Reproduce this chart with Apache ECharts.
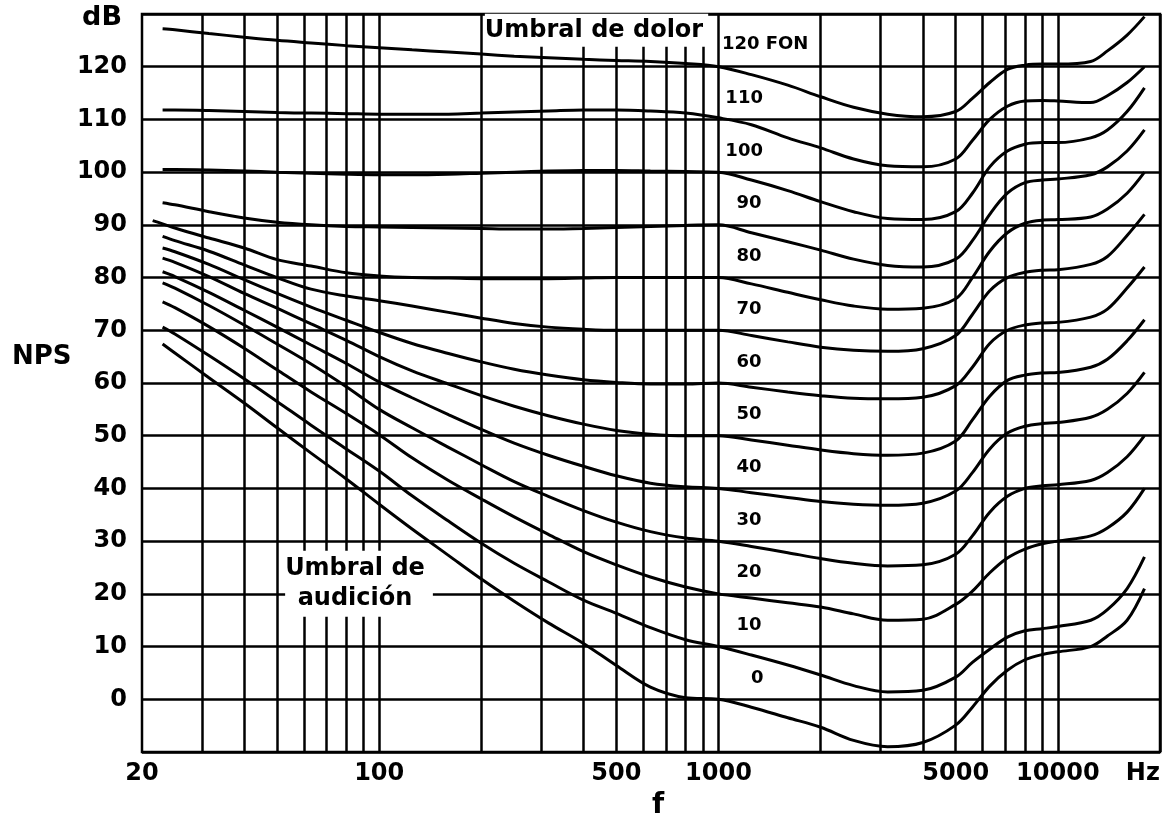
<!DOCTYPE html>
<html><head><meta charset="utf-8">
<script src="https://cdn.jsdelivr.net/npm/echarts@6/dist/echarts.min.js"></script>
<style>html,body{margin:0;padding:0;background:#fff}#c{width:1172px;height:839px}</style>
</head><body><div id="c"></div>
<script>
// Frequencies (Hz) at which the contours are read
const freqs = [21.5,23,25,31.5,40,50,63,80,100,125,160,200,250,315,400,500,630,800,1000,1250,1600,2000,2500,3150,4000,5000,5600,6300,7100,8000,9000,10000,12500,14000,16000,18000];
// Equal-loudness contours (dB SPL), one array per loudness level (phon); null = not drawn
const c120 = [null,127.2,127,126.3,125.6,125,124.5,124,123.6,123.2,122.8,122.4,122,121.7,121.4,121.2,121,120.6,120,118.5,116.5,114.3,112.3,111,110.5,111.5,114,117,119.5,120.3,120.5,120.5,121,123,126,129.5];
const c110 = [null,111.8,111.8,111.7,111.5,111.3,111.2,111.1,111,111,111,111.2,111.4,111.6,111.8,111.8,111.6,111.2,110.3,109,106.5,104.6,102.5,101.2,101,102.5,106,110,112.5,113.5,113.6,113.5,113.2,114.5,117,120];
const c100 = [null,100.5,100.5,100.4,100.2,100,99.8,99.6,99.5,99.5,99.6,99.8,100,100.2,100.3,100.3,100.2,100.1,100,98.5,96.5,94.4,92.5,91.2,91,92.5,96,101,104,105.3,105.6,105.6,106.5,108,111.5,116];
const c90 = [null,94.2,93.8,92.5,91.3,90.5,90,89.7,89.6,89.5,89.4,89.3,89.2,89.2,89.3,89.5,89.7,89.9,90,88.5,86.8,85.2,83.5,82.3,82,83.5,87,92,96,98,98.5,98.7,99.5,101,104,108];
const c80 = [90.8,90.2,89.4,87.5,85.6,83.4,82.2,80.9,80.3,80,79.9,79.8,79.8,79.8,79.9,80,80,80,80,78.8,77.2,75.8,74.6,74,74.2,76,80,85,88.5,90.3,90.9,91,91.5,93,96,100];
const c70 = [null,87.8,87,85,82.4,80,77.8,76.5,75.6,74.6,73.4,72.3,71.3,70.6,70.2,70,70,70,70,69,67.8,66.8,66.2,66,66.5,69,73,77.5,80,81,81.4,81.5,82.5,84,88,92];
const c60 = [null,85.6,84.9,82.5,79.6,77,74.4,71.9,69.6,67.5,65.6,64,62.6,61.5,60.6,60.1,59.8,59.8,60,59.2,58.3,57.6,57.1,57,57.3,59.5,63,67.5,70,71,71.4,71.5,72.5,74,78,82];
const c50 = [null,83.7,82.9,80.2,77,74.2,71.2,68.1,65,62.3,59.8,57.6,55.6,53.8,52.2,51,50.3,50,50,49.2,48.2,47.3,46.6,46.3,46.7,49,53,57.5,60.5,61.5,61.9,62,63,64.5,68,72];
const c40 = [null,81.1,80.2,77.2,73.8,70.6,67.2,63.7,60.2,57.2,54,51.2,48.6,46.3,44.2,42.4,41,40.3,40,39.2,38.3,37.5,37,36.8,37.2,39.5,43,47.5,50.5,51.8,52.3,52.5,53.5,55,58,62];
const c30 = [null,79,78,74.7,71,67.4,63.6,59.3,55,51.5,47.8,44.5,41.3,38.5,35.8,33.6,31.8,30.6,30,29,27.8,26.7,25.8,25.3,25.5,27.5,31,35.5,38.5,40,40.5,40.7,41.5,43,46,50];
const c20 = [null,75.4,74.3,70.7,66.6,62.5,58.3,54.2,50.2,45.8,41.5,38,34.6,31.3,28,25.5,23.2,21.3,20,19.2,18.3,17.5,16.2,15,15.2,18,20.5,24,26.8,28.5,29.5,30,31,32.5,35.5,40];
const c10 = [null,70.6,69.3,65.2,60.8,56.5,52,47.5,43.3,38.6,33.8,29.6,25.8,22.3,18.8,16.3,13.6,11.3,10,8.4,6.5,4.6,2.6,1.4,1.7,4.2,7,9.5,11.8,13,13.4,13.8,15,17,21,27];
const c0 = [null,67.4,65.7,61,56.2,51.5,46.7,41.8,37,32.3,27.3,22.8,18.6,14.5,10.6,6.4,2.3,0.3,0,-1.5,-3.5,-5.3,-7.8,-9,-8.2,-4.9,-1.5,2.5,5.5,7.5,8.5,9,10,12,15,21];
const curves = [c0,c10,c20,c30,c40,c50,c60,c70,c80,c90,c100,c110,c120];
// Curve labels
const curveLabels = ['0','10','20','30','40','50','60','70','80','90','100','110','120 FON'];
const curveLabelFreq = [1300,1230,1230,1230,1230,1230,1230,1230,1230,1230,1190,1190,1372];
const curveLabelDb = [4,14,24,34,44,54,64,74,84,94,104,114,124.2];
// Axis ticks
const xLabelValues = [20,100,500,1000,5000,10000];
const hzLabelAt = 17800;
const gridFreqs = [30,40,50,60,70,80,90,100,200,300,400,500,600,700,800,900,1000,2000,3000,4000,5000,6000,7000,8000,9000,10000,20000];
// Annotations
const annotations = [
  {text:'Umbral de dolor', f:437, db:126.9, pad:[3,5,0,0]},
  {text:'Umbral de\naudición', f:87.2, db:21.9, pad:[2,8,4,0]}
];

const FONT = 'DejaVu Sans';
const chart = echarts.init(document.getElementById('c'));
const series = [];
series.push({
  type:'line', data:[], z:1, silent:true,
  markLine:{ silent:true, symbol:['none','none'], animation:false,
    lineStyle:{color:'#000',width:2.5,type:'solid',opacity:1}, label:{show:false},
    emphasis:{disabled:true},
    data: gridFreqs.map(f=>({xAxis:f})) }
});
curves.forEach((c,i)=>{
  const d=[]; c.forEach((v,j)=>{ if(v!==null) d.push([freqs[j],v]); });
  series.push({type:'line', data:d, smooth:0.35, symbol:'none', z:3, silent:true,
    lineStyle:{color:'#000',width:3}});
});
series.push({type:'scatter', z:6, silent:true, symbolSize:0,
  itemStyle:{opacity:1},
  data: curveLabels.map((t,i)=>({name:t, value:[curveLabelFreq[i],curveLabelDb[i]]})),
  label:{show:true, position:'inside', formatter:p=>p.name, color:'#000', opacity:1,
    fontFamily:FONT, fontWeight:'bold', fontSize:18}
});
series.push({type:'scatter', z:7, silent:true, symbolSize:0,
  itemStyle:{opacity:1},
  data: annotations.map(a=>({name:a.text, value:[a.f,a.db], label:{padding:a.pad}})),
  label:{show:true, position:'inside', formatter:p=>p.name, color:'#000', opacity:1,
    fontFamily:FONT, fontWeight:'bold', fontSize:24, lineHeight:30, align:'center',
    backgroundColor:'#fff'}
});

chart.setOption({
  animation:false,
  backgroundColor:'#fff',
  grid:{left:142,right:12,top:14,bottom:87,show:true,borderColor:'#000',borderWidth:2.5,containLabel:false,outerBoundsMode:'none'},
  xAxis:{type:'log',logBase:10,min:20,max:20000,
    name:'f',nameLocation:'middle',nameGap:40,
    nameTextStyle:{fontFamily:FONT,fontWeight:'bold',fontSize:28,color:'#000',padding:[0,0,0,14]},
    axisLine:{show:false},axisTick:{show:false},splitLine:{show:false},minorSplitLine:{show:false},
    axisLabel:{customValues:xLabelValues.concat([hzLabelAt]),margin:10,color:'#000',
      fontFamily:FONT,fontWeight:'bold',fontSize:24,
      formatter:v=> v>15000?'Hz':String(Math.round(v))}
  },
  yAxis:{type:'value',min:-10,max:130,interval:10,
    axisLine:{show:false},axisTick:{show:false},
    splitLine:{show:true,lineStyle:{color:'#000',width:2.5}},
    axisLabel:{margin:15,color:'#000',fontFamily:FONT,fontWeight:'bold',fontSize:24,
      formatter:v=> v===130?'{db|dB}':(v===-10?'':String(v)),
      rich:{db:{fontFamily:FONT,fontWeight:'bold',fontSize:27,color:'#000',padding:[8,5,0,0]}}}
  },
  graphic:[{type:'text',left:12,top:344,style:{text:'NPS',font:'bold 26px "DejaVu Sans"',fill:'#000'}}],
  series:series
});
</script></body></html>
